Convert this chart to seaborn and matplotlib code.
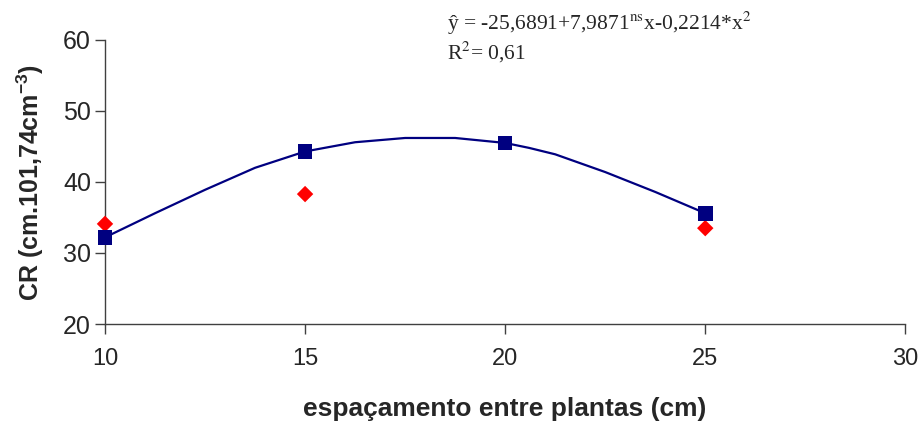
import matplotlib
matplotlib.use("Agg")
import matplotlib.pyplot as plt
import seaborn as sns
import pandas as pd

# observed values (red diamonds)
x_obs = [10, 15, 25]
cr_obs = [34.1, 38.3, 33.5]

# fitted values (blue squares)
x_fit = [10, 15, 20, 25]
cr_fit = [32.2, 44.3, 45.5, 35.6]

# fitted curve
x_curve = [10, 11.25, 12.5, 13.75, 15, 16.25, 17.5, 18.75, 20, 20.6, 21.25, 22.5, 23.75, 25]
cr_curve = [32.2, 35.6, 38.9, 42.0, 44.3, 45.6, 46.2, 46.2, 45.5, 44.8, 43.9, 41.4, 38.6, 35.6]

xticks = [10, 15, 20, 25, 30]
yticks = [20, 30, 40, 50, 60]

sns.set_style("ticks")
plt.rcParams['font.family'] = ['Liberation Sans', 'DejaVu Sans']
plt.rcParams['mathtext.fontset'] = 'custom'
plt.rcParams['mathtext.rm'] = 'Liberation Sans'
plt.rcParams['mathtext.bf'] = 'Liberation Sans:bold'

fig = plt.figure(figsize=(9.21, 4.21), dpi=100)
ax = fig.add_axes([0.114, 0.2304, 0.869, 0.6746])

df_curve = pd.DataFrame({"x": x_curve, "y": cr_curve})
df_fit = pd.DataFrame({"x": x_fit, "y": cr_fit})
df_obs = pd.DataFrame({"x": x_obs, "y": cr_obs})

sns.lineplot(data=df_curve, x="x", y="y", ax=ax, color="#000080", lw=1.6, sort=False)
sns.scatterplot(data=df_obs, x="x", y="y", ax=ax, marker="D", color="#FF0000", s=70,
                edgecolor="none", zorder=3, clip_on=False)
sns.scatterplot(data=df_fit, x="x", y="y", ax=ax, marker="s", color="#000080", s=110,
                edgecolor="none", zorder=4, clip_on=False)

ax.set_xlim(10, 30)
ax.set_ylim(20, 60)
ax.set_xticks(xticks)
ax.set_yticks(yticks)
ax.tick_params(axis='both', direction='out', length=7, width=1, color='#404040')
ax.tick_params(axis='y', labelsize=18, pad=3)
ax.tick_params(axis='x', labelsize=17, pad=10)
for s in ['top', 'right']:
    ax.spines[s].set_visible(False)
for s in ['left', 'bottom']:
    ax.spines[s].set_color('#404040')
    ax.spines[s].set_linewidth(1)

ax.set_xlabel("espaçamento entre plantas (cm)", fontsize=19, fontweight='bold', labelpad=20)
ax.set_ylabel(r"CR (cm.101,74cm$^{\mathbf{-3}}$)", fontsize=18, fontweight='bold', labelpad=12)

fig.text(0.485, 0.945, "ŷ = -25,6891+7,9871$^{\\mathrm{ns}}$x-0,2214*x$^{\\mathrm{2}}$",
         fontsize=15.5, family='Liberation Serif', va='center', ha='left',
         math_fontfamily='stix')
fig.text(0.485, 0.875, "R$^{\\mathrm{2}}$= 0,61", fontsize=15.5, family='Liberation Serif',
         va='center', ha='left', math_fontfamily='stix')

fig.savefig("out.png", dpi=100)
